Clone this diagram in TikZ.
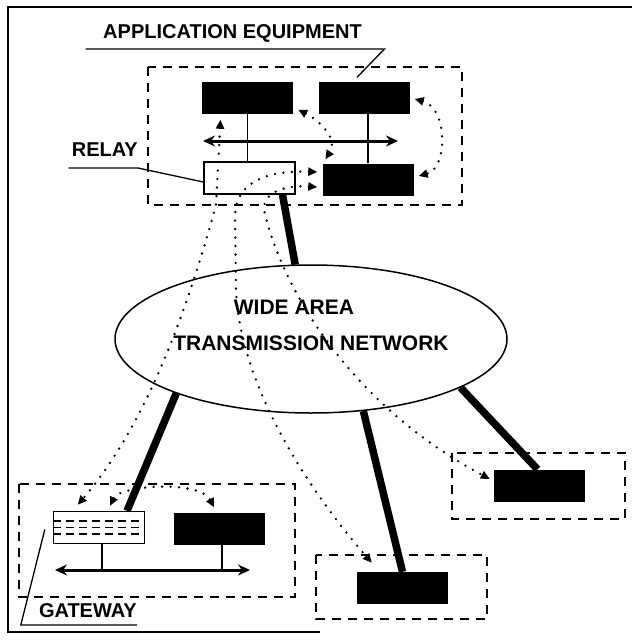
\documentclass[tikz,border=0pt]{standalone}
\usepackage{fontspec}
\setmainfont{Liberation Sans}
\usetikzlibrary{arrows.meta,positioning,shapes.geometric,calc}

\begin{document}
\begin{tikzpicture}[
    x=1pt, y=-1pt,
    equip/.style={rectangle,fill=black,minimum width=91pt,minimum height=32pt,inner sep=0pt},
    relaybox/.style={rectangle,draw,line width=1.4pt,fill=white,minimum width=91pt,minimum height=32pt,inner sep=0pt},
    group/.style={draw,line width=1.8pt,dash pattern=on 9pt off 7pt},
    lbl/.style={font=\fontsize{20}{24}\selectfont\bfseries,inner sep=0pt,text depth=0pt},
    leader/.style={line width=1.3pt},
    bus/.style={{Stealth[length=12pt,width=11pt]}-{Stealth[length=12pt,width=11pt]},line width=3pt},
    link/.style={line width=7.5pt},
    msg/.style={{Triangle[length=9pt,width=8pt]}-{Triangle[length=9pt,width=8pt]},line width=2.6pt,dash pattern=on 0pt off 8.5pt,line cap=round},
    wan/.style={ellipse,draw,line width=1.5pt,minimum width=392pt,minimum height=148pt,inner sep=0pt}
]
\useasboundingbox (0,0) rectangle (632,642);

% frame and equipment groups
\draw[line width=1.6pt] (320,632) -- (8,632) -- (8,7) -- (632,7);
\draw[group] (148,67) rectangle (462,205);
\draw[group] (19,484) rectangle (295,597);
\draw[group] (316,555) rectangle (487,619);
\draw[group] (452,453) rectangle (625,519);

% network
\node[wan] (wan) at (311,339) {};
\node[lbl,font=\fontsize{21}{36}\selectfont\bfseries,align=center] (wanText) at (311,325) {WIDE AREA\hspace*{34pt}\\TRANSMISSION NETWORK};

% application equipment
\node[equip] (appA) at (247.5,97.5) {};
\node[equip] (appB) at (364,97.5) {};
\node[equip] (appC) at (368,179.5) {};
\node[relaybox] (relay) at (249.5,178) {};
\coordinate (topBusL) at (203,141);
\coordinate (topBusR) at (398,141);
\draw[bus] (topBusL) -- (topBusR);
\draw[leader] (appA.south) -- (appA.south |- relay.north);
\draw[leader] (appC.north) -- (appC.north |- appB.south);

% gateway side
\node[relaybox] (gateway) at (99,527.5) {};
\foreach \dy in {6.5,0,-6.5}
  \draw[line width=1.2pt,dash pattern=on 8pt off 5pt] ([yshift=\dy pt]gateway.west) -- ([yshift=\dy pt]gateway.east);
\node[equip] (gwEq) at (219,528.5) {};
\coordinate (gwBusL) at (55,570);
\coordinate (gwBusR) at (250,570);
\draw[bus] (gwBusL) -- (gwBusR);
\draw[leader] ([xshift=3pt]gateway.south) -- ([xshift=3pt]gateway.south |- gwBusL);
\draw[leader] ([xshift=3pt]gwEq.south) -- ([xshift=3pt]gwEq.south |- gwBusL);

% remote equipment
\node[equip] (bmEq) at (402.5,588) {};
\node[equip] (rtEq) at (539.5,485.5) {};

% labels
\node[lbl,anchor=south,inner ysep=10pt] (appLbl) at (232.5,49) {APPLICATION EQUIPMENT};
\node[lbl,anchor=south east,inner ysep=11pt] (relayLbl) at (138,168) {RELAY};
\node[lbl,anchor=south east,inner ysep=7pt] (gwLbl) at (137,625) {GATEWAY};
\draw[leader] ([xshift=-17.5pt]appLbl.south west) -- ([xshift=22.5pt]appLbl.south east) -- ([xshift=-7pt,yshift=4pt]appB.north);
\draw[leader] ([xshift=-3pt]relayLbl.south west) -- (relayLbl.south east) -- ([yshift=-4pt]relay.west);
\draw[leader] ([xshift=-8pt,yshift=-2pt]gateway.west) -- ([xshift=-18pt]gwLbl.south west) -- (gwLbl.south east);

% transmission links
\draw[link] ([xshift=33pt]relay.south) -- (wan.102);
\draw[link] (wan.202) -- ([xshift=28pt]gateway.north);
\draw[link] (wan.306) -- (bmEq.north);
\draw[link] (wan.342) -- ([xshift=-2pt]rtEq.north);

% message paths
\draw[msg] ([xshift=-27pt,yshift=-6pt]appA.south) -- (216,205) .. controls (190,300) and (150,420) .. ([xshift=25pt,yshift=6pt]gateway.north west);
\draw[msg] ([xshift=-5pt,yshift=7.5pt]appC.west) .. controls (262,170) and (236,185) .. (235,215) -- (236,290) .. controls (240,380) and (300,480) .. ([xshift=15pt,yshift=9pt]bmEq.north west);
\draw[msg] ([xshift=-5pt,yshift=-7.5pt]appC.west) .. controls (285,185) and (263,192) .. (264,210) .. controls (285,300) and (360,410) .. ([xshift=-4pt,yshift=6.5pt]rtEq.west);
\draw[msg] ([xshift=5pt,yshift=4pt]appA.south east) .. controls (322,122) and (338,140) .. ([xshift=3pt,yshift=4pt]appC.north west);
\draw[msg] ([xshift=5pt,yshift=-1.5pt]appB.east) .. controls (448,108) and (448,168) .. ([xshift=5pt,yshift=3.5pt]appC.east);
\draw[msg] ([xshift=11pt,yshift=5pt]gateway.north) .. controls (120,485) and (200,480) .. ([xshift=-5pt,yshift=5pt]gwEq.north);
\end{tikzpicture}
\end{document}
